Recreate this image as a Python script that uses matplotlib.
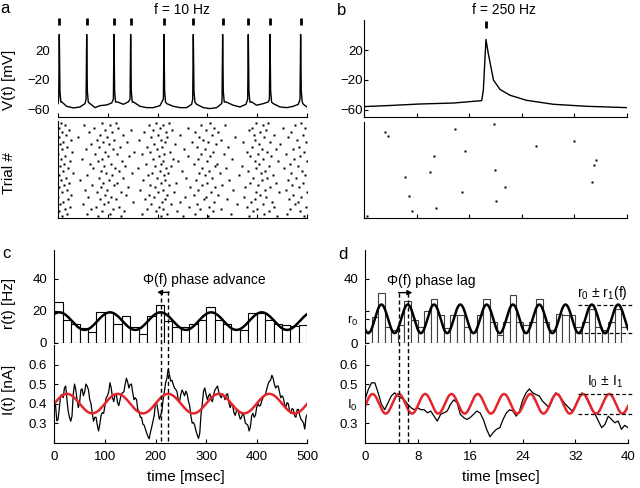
import numpy as np
import matplotlib.pyplot as plt
from matplotlib.transforms import blended_transform_factory

plt.rcParams['font.family'] = ['Liberation Sans', 'DejaVu Sans']
plt.rcParams['mathtext.fontset'] = 'custom'
plt.rcParams['mathtext.rm'] = 'Liberation Sans'
plt.rcParams['mathtext.it'] = 'Liberation Sans:italic'

# ---- panel a: membrane potential, f = 10 Hz (ms, mV)
spikes_a = [2.6, 57.6, 112.4, 145.9, 212.8, 271.7, 330.6, 382.1, 425.7, 487.2]
base_a_t = [0, 7.4, 17.4, 30.8, 44.2, 54.2, 64.3, 74.3, 84.3, 97.7, 107.8,
            119.1, 131.2, 141.2, 151.3, 164.6, 178, 191.4, 204.8, 218.2, 231.6,
            245, 258.3, 268.4, 278.4, 291.8, 305.2, 318.6, 328.6, 337.3, 352,
            365.4, 377.5, 388.8, 398.9, 412.3, 422.3, 432.4, 445.8, 459.2, 472.5,
            482.6, 492.6, 500]
base_a_v = [-52, -49.7, -55.6, -57.8, -56.5, -52, -52, -57.4, -54.7, -53.8, -51.1,
            -49.7, -52.9, -49.7, -49.7, -55.6, -57.4, -57.4, -54.7, -52, -55.6,
            -57.4, -57.4, -52.9, -52.9, -57.4, -58.7, -57.4, -52, -49.7, -54.2,
            -56.5, -52.9, -49.7, -54.2, -52, -49.7, -52, -56.5, -57.4, -55.6,
            -52.9, -52.9, -56.5]
spike_dt = [-1.2, 0.0, 1.3, 3.2]
spike_dv = [-46, 41, -35, -50]

# ---- panel b: membrane potential, f = 250 Hz
vb_t = [0, 4, 8.5, 13.6, 17.9, 18.15, 18.55, 18.9, 19.7, 20.7, 22.2, 24.7, 28.8, 33.9, 40]
vb_v = [-56, -54.5, -52.5, -51.2, -48, -34, 34.4, 15.5, -20.5, -33, -40.7, -47.5, -52.9, -55.6, -57.4]
spike_b = 18.6

# ---- rasters (spike times per trial)
raster_a = [
    [6, 88, 117, 196, 223, 305, 398, 421, 487],
    [14, 52, 104, 182, 210, 288, 336, 412, 476],
    [2, 73, 120, 205, 261, 314, 389, 452, 495],
    [22, 95, 146, 190, 228, 297, 383, 418],
    [9, 62, 108, 172, 216, 275, 322, 405, 468],
    [17, 85, 131, 201, 244, 309, 394, 433, 491],
    [3, 41, 99, 187, 219, 284, 356, 414, 462],
    [26, 79, 113, 163, 207, 292, 327, 396, 479],
    [11, 90, 139, 214, 270, 301, 372, 426, 498],
    [5, 67, 102, 193, 235, 318, 403, 446],
    [19, 83, 125, 178, 209, 279, 341, 390, 483],
    [8, 57, 111, 199, 253, 296, 410, 437, 471],
    [28, 94, 152, 185, 224, 312, 379, 419, 494],
    [1, 75, 118, 168, 213, 287, 333, 401, 458],
    [15, 101, 143, 203, 262, 306, 386, 428, 486],
    [7, 48, 89, 191, 230, 281, 349, 412, 474],
    [24, 80, 128, 211, 241, 299, 395, 441, 499],
    [12, 64, 106, 176, 206, 273, 320, 404, 465],
    [4, 92, 135, 195, 226, 315, 369, 423, 481],
    [20, 71, 115, 160, 217, 290, 338, 398, 453],
    [10, 86, 122, 204, 249, 303, 382, 416, 490],
    [30, 97, 148, 189, 220, 284, 325, 407, 468],
    [2, 59, 109, 181, 212, 295, 363, 431, 496],
    [16, 82, 130, 198, 258, 310, 392, 420, 477],
    [6, 45, 103, 170, 215, 278, 344, 409, 461],
    [23, 91, 119, 207, 237, 300, 385, 438, 492],
    [13, 69, 112, 185, 222, 289, 330, 402, 470],
    [3, 87, 141, 194, 266, 316, 376, 425, 484],
    [18, 54, 98, 165, 210, 282, 352, 415, 457],
    [9, 78, 126, 200, 233, 307, 397, 444, 499],
    [27, 95, 137, 183, 218, 274, 321, 406, 472],
    [1, 61, 107, 192, 255, 298, 374, 418, 488],
    [21, 84, 116, 174, 214, 293, 339, 395, 463],
    [11, 100, 150, 208, 245, 313, 388, 429, 482],
    [5, 50, 93, 186, 227, 280, 360, 411, 475],
    [25, 76, 123, 202, 264, 304, 380, 434, 497],
    [14, 66, 110, 179, 211, 286, 328, 400, 466],
    [3, 89, 133, 196, 239, 311, 391, 423, 485],
    [19, 58, 105, 169, 219, 276, 347, 413, 459],
    [8, 81, 127, 206, 252, 302, 384, 440, 493],
]
raster_b_t = [3.2, 3.6, 13.8, 19.8, 10.6, 15.3, 26.2, 31.9, 35.3, 35.0, 6.3,
              10.0, 19.9, 6.9, 14.9, 21.4, 34.7, 7.3, 11.0, 20.1, 0.4]
raster_b_trial = [36, 34, 37, 39, 26, 28, 30, 32, 24, 22, 17,
                  19, 20, 9, 11, 13, 15, 3, 4, 7, 1]

# ---- panel c: rate histogram (Hz), 30 bins over 500 ms
rate_c = [25.5, 14.1, 12, 9, 6.5, 19.4, 19.4, 12, 16.4, 10, 5.3, 16.4, 23.8, 13.3, 9.7,
          9.7, 11.4, 13.9, 22.5, 13.9, 12, 8.4, 7.8, 18.7, 18.7, 14.5, 11.4, 10.9, 10.5, 10.9]
r0_c, r1_c, rpeak_c, f_c = 13.5, 5.5, 10.0, 0.010   # f in 1/ms
I0, I1 = 0.4, 0.05
ipeak_c = 25.0
# input current (nA), sampled every 2.5 ms
i_c = [.405, .39, .312, .32, .38, .44, .447, .43, .48, .49, .42, .36, .33, .31, .337, .45, .50, .47, .42, .38,
       .405, .47, .476, .44, .46, .50, .49, .47, .42, .40, .35, .31, .33, .33, .29, .26, .295, .34, .354, .35,
       .388, .43, .44, .46, .507, .48, .43, .41, .447, .45, .405, .39, .42, .45, .456, .46, .498, .53, .51, .48,
       .498, .50, .456, .42, .43, .42, .37, .36, .33, .33, .295, .29, .27, .25, .232, .22, .253, .28, .31, .34,
       .405, .40, .363, .32, .337, .36, .42, .46, .507, .53, .575, .55, .515, .52, .498, .48, .473, .46, .42, .41,
       .447, .47, .456, .44, .464, .45, .414, .39, .337, .30, .303, .29, .26, .24, .222, .25, .346, .40, .464, .48,
       .447, .42, .44, .45, .42, .41, .447, .47, .48, .49, .46, .44, .43, .45, .44, .42, .447, .45, .405, .38,
       .397, .39, .354, .34, .363, .37, .346, .32, .33, .35, .337, .30, .295, .29, .26, .28, .337, .35, .33, .34,
       .38, .40, .388, .39, .414, .43, .44, .45, .476, .50, .515, .52, .545, .53, .498, .48, .49, .49, .46, .43,
       .44, .43, .397, .38, .405, .40, .363, .35, .375, .37, .337, .33, .37, .37, .34, .32, .312, .30, .27, .33,
       .346]
phase_c = [210, 225]

# ---- panel d: 40 bins of 1 ms
rate_d = [7.7, 16.2, 31, 10.4, 8.3, 11.5, 26, 14.6, 10.4, 19.8, 27.5, 17.7, 9.8, 17.3, 17.3, 10.4,
          7.3, 17.7, 27.5, 13.1, 5.2, 13, 29.8, 13, 11.5, 13, 27.5, 13, 8.3, 18.3, 17.7, 17.7,
          10.4, 13.5, 21.3, 10.4, 8.3, 13, 21.3, 10.4]
r0_d, r1_d, rpeak_d, f_d = 15.2, 8.9, 2.5, 0.25
ipeak_d = 1.15
i_d = [.42, .473, .507, .507, .456, .397, .37, .405, .44, .456,
       .44, .43, .42, .397, .38, .37, .38, .37, .37, .354,
       .363, .337, .312, .346, .354, .363, .397, .42, .405, .346,
       .33, .32, .33, .346, .363, .354, .32, .27, .232, .253,
       .27, .278, .32, .354, .37, .363, .337, .363, .42, .456,
       .476, .456, .447, .44, .414, .397, .38, .42, .456, .447,
       .42, .397, .38, .363, .388, .42, .456, .44, .405, .37,
       .346, .312, .278, .295, .337, .32, .303, .312, .27, .29,
       .278]
phase_d = [5.17, 6.49]

RED = '#e4262c'
W, H = 640, 488


def rect(l, t, r, b):
    return [l / W, 1 - b / H, (r - l) / W, (b - t) / H]


def style(ax, left=True, bottom=True, pad=4):
    for s in ['top', 'right']:
        ax.spines[s].set_visible(False)
    ax.spines['left'].set_visible(left)
    ax.spines['bottom'].set_visible(bottom)
    ax.tick_params(direction='in', length=3, width=0.8, labelsize=9.5, pad=pad)
    for s in ax.spines.values():
        s.set_linewidth(0.8)


def build_trace(bt, bv, spikes):
    t = list(bt)
    v = list(bv)
    for s in spikes:
        t += [s + d for d in spike_dt]
        v += spike_dv
    order = np.argsort(t)
    return np.array(t)[order], np.array(v)[order]


fig = plt.figure(figsize=(6.4, 4.88), dpi=100)

# ---- a
axVa = fig.add_axes(rect(58, 20, 307, 117))
ta, va = build_trace(base_a_t, base_a_v, spikes_a)
axVa.plot(ta, va, color='k', lw=1.0)
axVa.vlines(spikes_a, 54, 63, color='k', lw=2, clip_on=False)
axVa.set_xlim(0, 500)
axVa.set_ylim(-70, 60.5)
axVa.set_yticks([-60, -20, 20])
axVa.set_xticks([0, 100, 200, 300, 400, 500])
axVa.set_xticklabels([])
style(axVa, left=False, pad=6)
axVa.tick_params(axis='y', left=False)

axRa = fig.add_axes(rect(58, 121, 307, 218))
for k, row in enumerate(raster_a):
    axRa.plot(row, [len(raster_a) - k] * len(row), 's', color='k', ms=1.6, mec='none')
axRa.set_xlim(0, 500)
axRa.set_ylim(0.2, len(raster_a) + 0.8)
axRa.set_yticks([])
axRa.set_xticks([0, 100, 200, 300, 400, 500])
axRa.set_xticklabels([])
style(axRa)

# ---- b
axVb = fig.add_axes(rect(364, 20, 627, 117))
axVb.plot(vb_t, vb_v, color='k', lw=1.0)
axVb.vlines([spike_b], 50, 59, color='k', lw=2, clip_on=False)
axVb.set_xlim(0, 40)
axVb.set_ylim(-70, 60.5)
axVb.set_yticks([-60, -20, 20])
axVb.set_xticks([0, 8, 16, 24, 32, 40])
axVb.set_xticklabels([])
style(axVb, pad=1)

axRb = fig.add_axes(rect(364, 122, 627, 218))
axRb.plot(raster_b_t, raster_b_trial, 's', color='k', ms=1.6, mec='none')
axRb.set_xlim(0, 40)
axRb.set_ylim(0, 40)
axRb.set_yticks([])
axRb.set_xticks([0, 8, 16, 24, 32, 40])
axRb.set_xticklabels([])
style(axRb)

# ---- c
axrc = fig.add_axes(rect(54.3, 250, 307.3, 342.7))
wc = 500 / len(rate_c)
axrc.bar(np.arange(len(rate_c)) * wc, rate_c, width=wc, align='edge',
         color='white', edgecolor='k', lw=0.8)
tt = np.linspace(0, 500, 1000)
axrc.plot(tt, r0_c + r1_c * np.cos(2 * np.pi * f_c * (tt - rpeak_c)), color='k', lw=1.8)
axrc.set_xlim(0, 500)
axrc.set_ylim(0, 58)
axrc.set_yticks([0, 20, 40])
axrc.set_xticks([])
style(axrc, bottom=False, pad=5)
axrc.annotate('', xy=(203, 31.5), xytext=(227, 31.5),
              arrowprops=dict(arrowstyle='-|>', color='k', lw=1, mutation_scale=7,
                              shrinkA=0, shrinkB=0))
axrc.text(176, 39.2, 'Φ(f) phase advance', va='center', ha='left', fontsize=10)

axIc = fig.add_axes(rect(54.3, 345, 307.3, 442.7))
axIc.plot(np.linspace(0, 500, len(i_c)), i_c, color='k', lw=0.9)
axIc.plot(tt, I0 + I1 * np.cos(2 * np.pi * f_c * (tt - ipeak_c)), color=RED, lw=1.8)
axIc.set_xlim(0, 500)
axIc.set_ylim(0.2, 0.7)
axIc.set_yticks([0.3, 0.4, 0.5, 0.6])
axIc.set_xticks([0, 100, 200, 300, 400, 500])
style(axIc, pad=5)
axIc.tick_params(axis='x', pad=6)
trc = blended_transform_factory(axIc.transData, fig.transFigure)
for x in phase_c:
    axIc.plot([x, x], [1 - 291 / H, 1 - 443 / H], transform=trc, color='k',
              lw=1, ls=(0, (3, 2)), clip_on=False)

# ---- d
axrd = fig.add_axes(rect(365, 250, 628, 343.3))
wd = 40 / len(rate_d)
axrd.bar(np.arange(len(rate_d)) * wd, rate_d, width=wd, align='edge',
         color='white', edgecolor='0.25', lw=0.8)
td = np.linspace(0, 40, 1000)
axrd.plot(td, r0_d + r1_d * np.cos(2 * np.pi * f_d * (td - rpeak_d)), color='k', lw=1.8)
axrd.set_xlim(0, 40)
axrd.set_ylim(0, 58)
axrd.set_yticks([0, r0_d, 20, 40])
axrd.set_yticklabels(['0', 'r$_0$', '', '40'])
axrd.set_xticks([])
style(axrd, bottom=False, pad=5)
for yv in [r0_d + r1_d, r0_d - r1_d]:
    axrd.plot([32.4, 40.6], [yv, yv], color='k', lw=0.9, ls=(0, (3, 2)), clip_on=False)
axrd.text(32.3, 31, 'r$_0$ ± r$_1$(f)', va='center', ha='left', fontsize=10)
axrd.annotate('', xy=(7.2, 31.5), xytext=(5.1, 31.5),
              arrowprops=dict(arrowstyle='-|>', color='k', lw=1, mutation_scale=7,
                              shrinkA=0, shrinkB=0))
axrd.text(3.3, 39, 'Φ(f) phase lag', va='center', ha='left', fontsize=10)

axId = fig.add_axes(rect(365, 345, 628, 443))
axId.plot(np.linspace(0, 40, len(i_d)), i_d, color='k', lw=0.9)
axId.plot(td, I0 + I1 * np.cos(2 * np.pi * f_d * (td - ipeak_d)), color=RED, lw=1.8)
axId.set_xlim(0, 40)
axId.set_ylim(0.2, 0.7)
axId.set_yticks([0.3, 0.4, 0.5, 0.6])
axId.set_yticklabels(['0.3', 'I$_0$', '0.5', '0.6'])
axId.set_xticks([0, 8, 16, 24, 32, 40])
style(axId, pad=5)
axId.tick_params(axis='x', pad=6)
for yv in [I0 + I1, I0 - I1]:
    axId.plot([32.4, 40.6], [yv, yv], color='k', lw=0.9, ls=(0, (3, 2)), clip_on=False)
axId.text(33.7, 0.51, 'I$_0$ ± I$_1$', va='center', ha='left', fontsize=10)
trd = blended_transform_factory(axId.transData, fig.transFigure)
for x in phase_d:
    axId.plot([x, x], [1 - 293 / H, 1 - 443 / H], transform=trd, color='k',
              lw=1, ls=(0, (3, 2)), clip_on=False)

# ---- labels
def ftext(x, y, s, **kw):
    fig.text(x / W, 1 - y / H, s, **kw)

ftext(9, 80, 'V(t) [mV]', rotation=90, ha='center', va='center', fontsize=11)
ftext(9, 173, 'Trial #', rotation=90, ha='center', va='center', fontsize=11)
ftext(9, 303, 'r(t) [Hz]', rotation=90, ha='center', va='center', fontsize=11)
ftext(9, 390, 'I(t) [nA]', rotation=90, ha='center', va='center', fontsize=11)
ftext(185.5, 477, 'time [msec]', ha='center', va='center', fontsize=11)
ftext(500.5, 477, 'time [msec]', ha='center', va='center', fontsize=11)
ftext(182, 13.5, 'f = 10 Hz', ha='center', va='baseline', fontsize=10)
ftext(503.5, 14, 'f = 250 Hz', ha='center', va='baseline', fontsize=10)
ftext(0.5, 13.3, 'a', ha='left', va='baseline', fontsize=12)
ftext(337, 15, 'b', ha='left', va='baseline', fontsize=12)
ftext(2, 258.3, 'c', ha='left', va='baseline', fontsize=12)
ftext(338, 259.3, 'd', ha='left', va='baseline', fontsize=12)

fig.savefig('out.png', dpi=100)
